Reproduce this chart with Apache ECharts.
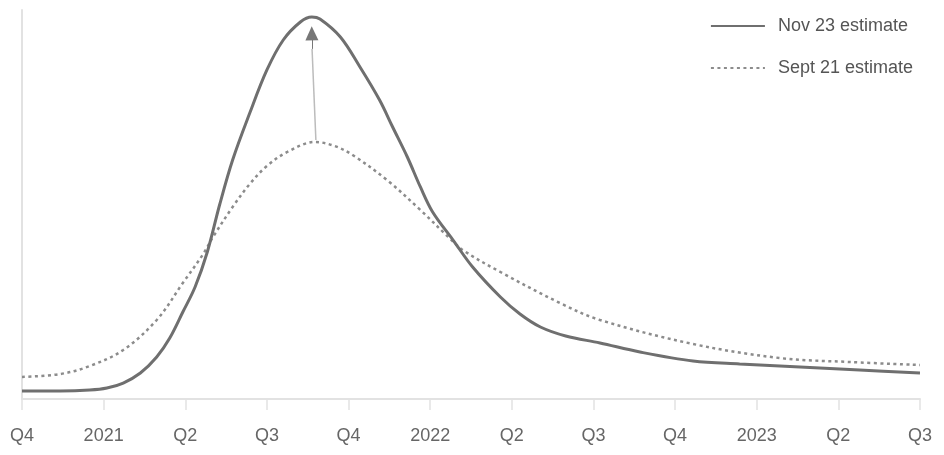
<!DOCTYPE html>
<html>
<head>
<meta charset="utf-8">
<script src="https://cdn.jsdelivr.net/npm/echarts@6/dist/echarts.min.js"></script>
<style>html,body{margin:0;padding:0;background:#fff}#c{width:944px;height:455px}</style>
</head>
<body>
<div id="c"></div>
<script>
// x in quarters from Q4 2020 (0) to Q3 2023 (11); y in relative units (0-100)
var tickLabels = ['Q4','2021','Q2','Q3','Q4','2022','Q2','Q3','Q4','2023','Q2','Q3'];
var seriesNames = ['Nov 23 estimate', 'Sept 21 estimate'];
var nov23X = [0,0.47,0.83,1.04,1.24,1.45,1.65,1.81,1.97,2.12,2.27,2.42,2.58,2.79,3.0,3.2,3.41,3.55,3.65,3.9,4.14,4.38,4.54,4.72,4.88,5.03,5.28,5.52,5.86,6.1,6.35,6.66,7.08,7.57,8.22,8.79,9.53,10.26,11];
var nov23Y = [2.06,2.06,2.31,2.83,4.11,6.68,10.8,15.68,22.37,28.79,37.79,49.87,61.44,73.52,84.58,92.29,96.92,98.2,97.69,93.06,85.35,76.86,69.92,62.21,54.5,48.07,40.87,33.93,26.22,21.85,18.51,16.2,14.4,12.08,9.77,9.0,8.23,7.46,6.68];
var sept21X = [0,0.47,0.83,1.24,1.65,1.97,2.22,2.34,2.58,2.79,3.0,3.25,3.59,3.83,4.05,4.47,4.88,5.21,5.4,5.86,6.59,7.08,8.22,9.28,10.14,11];
var sept21Y = [5.66,6.43,8.48,12.6,20.31,29.82,37.28,41.65,49.36,55.27,59.9,63.5,66.07,65.04,62.72,56.3,48.59,41.9,38.3,32.65,24.68,20.31,14.14,10.54,9.51,8.74];
var arrowFrom = [3.6, 66.6];
var arrowTo = [3.55, 94.0];

function pairs(xs, ys){ return xs.map(function(x,i){ return [x, ys[i]]; }); }

var font = '"Liberation Sans Narrow", "Liberation Sans", Arial, sans-serif';
var chart = echarts.init(document.getElementById('c'), null, {renderer:'canvas'});
chart.setOption({
  animation: false,
  backgroundColor: '#ffffff',
  grid: {left: 22, right: 24, top: 10, bottom: 56},
  legend: {
    orient: 'vertical', right: 26, top: 12,
    itemWidth: 54, itemHeight: 14, itemGap: 24,
    itemStyle: {opacity: 0},
    textStyle: {fontFamily: font, fontSize: 18, color: '#555', padding:[0,0,0,8]},
    data: seriesNames
  },
  xAxis: {
    type: 'value', min: 0, max: 11, interval: 1,
    axisLine: {show: true, lineStyle: {color: '#e2e2e2', width: 2}},
    axisTick: {show: true, length: 11, lineStyle: {color: '#e2e2e2', width: 1.5}},
    splitLine: {show: false},
    axisLabel: {
      margin: 28, color: '#666', fontFamily: font, fontSize: 18,
      formatter: function(v){ return tickLabels[Math.round(v)]; }
    }
  },
  yAxis: {
    type: 'value', min: 0, max: 100,
    axisLine: {show: true, lineStyle: {color: '#e2e2e2', width: 2}},
    axisTick: {show: false},
    axisLabel: {show: false},
    splitLine: {show: false}
  },
  series: [
    {
      name: seriesNames[0], type: 'line', data: pairs(nov23X, nov23Y),
      smooth: 0.35, showSymbol: false, symbol: 'none', z: 3,
      lineStyle: {color: '#6f6f6f', width: 3},
      itemStyle: {color: '#6f6f6f'},
      markLine: {
        silent: true, animation: false, label: {show: false},
        data: [
          [{coord: arrowFrom, symbol: 'none', lineStyle: {color: '#bcbcbc', width: 1.5, type: 'solid'}},
           {coord: [arrowTo[0]+0.003, arrowTo[1]-4], symbol: 'none'}],
          [{coord: [arrowTo[0]+0.003, arrowTo[1]-4], symbol: 'none', lineStyle: {color: '#777', width: 1, type: 'solid'}},
           {coord: arrowTo, symbol: 'triangle', symbolSize: [13, 14]}]
        ]
      }
    },
    {
      name: seriesNames[1], type: 'line', data: pairs(sept21X, sept21Y),
      smooth: 0.35, showSymbol: false, symbol: 'none', z: 2,
      lineStyle: {color: '#8c8c8c', width: 2.5, type: [3, 3.5]},
      itemStyle: {color: '#8c8c8c'}
    }
  ]
});
</script>
</body>
</html>
